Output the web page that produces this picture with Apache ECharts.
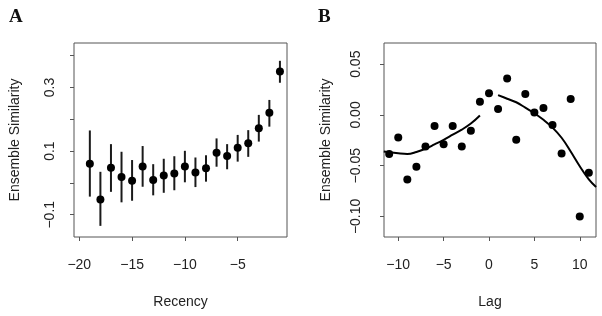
<!DOCTYPE html>
<html><head><meta charset="utf-8">
<script src="https://cdn.jsdelivr.net/npm/echarts@6/dist/echarts.min.js"></script>
<style>html,body{margin:0;padding:0;background:#fff}#c{width:602px;height:316px}</style>
</head><body><div id="c"></div>
<script>
// Panel A: Recency
const recency = [-19,-18,-17,-16,-15,-14,-13,-12,-11,-10,-9,-8,-7,-6,-5,-4,-3,-2,-1];
const simA    = [0.060,-0.052,0.048,0.019,0.007,0.052,0.009,0.023,0.030,0.052,0.033,0.046,0.095,0.085,0.111,0.125,0.172,0.221,0.350];
const lowA    = [-0.043,-0.135,-0.028,-0.061,-0.056,-0.012,-0.039,-0.031,-0.023,0.002,-0.013,0.004,0.051,0.043,0.067,0.082,0.130,0.177,0.315];
const highA   = [0.165,0.035,0.122,0.098,0.072,0.116,0.059,0.076,0.084,0.101,0.080,0.087,0.140,0.122,0.151,0.166,0.214,0.261,0.384];
const xTicksA = [-20,-15,-10,-5];
const yTicksA = [-0.1,0,0.1,0.2,0.3,0.4];
const yLabelsA = [-0.1,0.1,0.3];

// Panel B: Lag
const lag  = [-11,-10,-9,-8,-7,-6,-5,-4,-3,-2,-1,0,1,2,3,4,5,6,7,8,9,10,11];
const simB = [-0.0386,-0.0222,-0.0637,-0.051,-0.031,-0.011,-0.0288,-0.011,-0.031,-0.0157,0.013,0.0213,0.0059,0.036,-0.0245,0.0206,0.0023,0.0069,-0.0098,-0.038,0.0157,-0.100,-0.057];
const fitLeftX  = [-11.6,-10,-9,-8,-7,-6,-5,-4,-3,-2,-1];
const fitLeftY  = [-0.036,-0.0378,-0.0385,-0.0365,-0.0333,-0.029,-0.0245,-0.0195,-0.0145,-0.0085,-0.0005];
const fitRightX = [1,2,3,4,5,6,7,8,9,10,11,11.8];
const fitRightY = [0.0195,0.016,0.0125,0.0072,0.0017,-0.0048,-0.0125,-0.0225,-0.036,-0.0505,-0.0635,-0.071];
const xTicksB = [-10,-5,0,5,10];
const yTicksB = [-0.10,-0.05,0,0.05];

const fmtMinus = s => String(s).replace('-', '\u2212');
const font = "'Liberation Sans', Arial, sans-serif";
const txt = '#222';

function xAxis(gi, min, max, ticks, name, gap) {
  return {
    type: 'value', gridIndex: gi, min, max,
    name, nameLocation: 'middle', nameGap: gap,
    nameTextStyle: {fontFamily: font, fontSize: 14, color: txt},
    axisLine: {show: false, onZero: false}, splitLine: {show: false},
    axisTick: {show: true, length: 4, customValues: ticks, lineStyle: {color: '#555'}},
    axisLabel: {customValues: ticks, fontFamily: font, fontSize: 14, color: txt, margin: 21,
      formatter: v => fmtMinus(v)}
  };
}
function yAxis(gi, min, max, ticks, labels, dec, gap, margin) {
  return {
    type: 'value', gridIndex: gi, min, max,
    name: 'Ensemble Similarity', nameLocation: 'middle', nameGap: gap,
    nameTextStyle: {fontFamily: font, fontSize: 14, color: txt},
    axisLine: {show: false, onZero: false}, splitLine: {show: false},
    axisTick: {show: true, length: 4, customValues: ticks, lineStyle: {color: '#555'}},
    axisLabel: {customValues: labels, rotate: 90, fontFamily: font, fontSize: 14, color: txt, margin,
      formatter: v => fmtMinus(Number(v).toFixed(dec))}
  };
}

const chart = echarts.init(document.getElementById('c'), null, {renderer: 'canvas'});
chart.setOption({
  animation: false,
  title: [
    {text: 'A', left: 4, top: 3, textStyle: {fontFamily: "'Liberation Serif', 'DejaVu Serif', serif", fontWeight: 'bold', fontSize: 19, color: '#111'}},
    {text: 'B', left: 313, top: 3, textStyle: {fontFamily: "'Liberation Serif', 'DejaVu Serif', serif", fontWeight: 'bold', fontSize: 19, color: '#111'}}
  ],
  grid: [
    {left: 74, right: 315, top: 43, bottom: 79, show: true, borderColor: '#555', borderWidth: 1, backgroundColor: 'transparent'},
    {left: 384, right: 6, top: 43, bottom: 79, show: true, borderColor: '#555', borderWidth: 1, backgroundColor: 'transparent'}
  ],
  xAxis: [
    xAxis(0, -20.5, -0.33, xTicksA, 'Recency', 58),
    xAxis(1, -11.57, 11.79, xTicksB, 'Lag', 58)
  ],
  yAxis: [
    yAxis(0, -0.17, 0.44, yTicksA, yLabelsA, 1, 52, 17),
    yAxis(1, -0.1203, 0.0709, yTicksB, yTicksB, 2, 51, 21)
  ],
  series: [
    {
      type: 'custom', xAxisIndex: 0, yAxisIndex: 0,
      data: recency.map((x, i) => [x, lowA[i], highA[i]]),
      renderItem: (params, api) => {
        const p1 = api.coord([api.value(0), api.value(1)]);
        const p2 = api.coord([api.value(0), api.value(2)]);
        return {type: 'line', shape: {x1: p1[0], y1: p1[1], x2: p2[0], y2: p2[1]},
          style: {stroke: '#1a1a1a', lineWidth: 2}};
      },
      z: 1
    },
    {
      type: 'scatter', xAxisIndex: 0, yAxisIndex: 0,
      data: recency.map((x, i) => [x, simA[i]]),
      symbol: 'circle', symbolSize: 8, itemStyle: {color: '#000', opacity: 1}, z: 2
    },
    {
      type: 'scatter', xAxisIndex: 1, yAxisIndex: 1,
      data: lag.map((x, i) => [x, simB[i]]),
      symbol: 'circle', symbolSize: 8, itemStyle: {color: '#000', opacity: 1}, z: 2
    },
    {
      type: 'line', xAxisIndex: 1, yAxisIndex: 1, smooth: 0.4, showSymbol: false,
      data: fitLeftX.map((x, i) => [x, fitLeftY[i]]),
      lineStyle: {color: '#000', width: 2}, clip: true
    },
    {
      type: 'line', xAxisIndex: 1, yAxisIndex: 1, smooth: 0.4, showSymbol: false,
      data: fitRightX.map((x, i) => [x, fitRightY[i]]),
      lineStyle: {color: '#000', width: 2}, clip: true
    }
  ]
});
</script>
</body></html>
